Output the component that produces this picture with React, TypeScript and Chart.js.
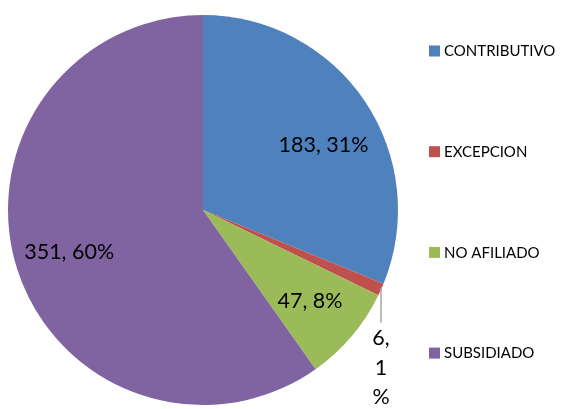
import React, { useEffect, useRef } from "react";
import { Chart, registerables } from "chart.js";

Chart.register(...registerables);

const categories = ["CONTRIBUTIVO", "EXCEPCION", "NO AFILIADO", "SUBSIDIADO"];
const values = [183, 6, 47, 351];
const colors = ["#4F81BD", "#C0504D", "#9BBB59", "#8064A2"];

const FONT = "Lato, 'Open Sans', 'Liberation Sans', sans-serif";
// small best-fit nudges for the in-slice labels (pixels), layout only
const labelNudgeY = [13, 0, 0, 0];
const labelNudgeX = [4, 0, 0, 0];

const labelPlugin = {
  id: "sliceLabels",
  afterDraw(chart: any) {
    const ctx = chart.ctx;
    const meta = chart.getDatasetMeta(0);
    const data = chart.data.datasets[0].data as number[];
    const total = data.reduce((a, b) => a + b, 0);
    ctx.save();
    ctx.fillStyle = "#000";
    ctx.textAlign = "center";
    ctx.textBaseline = "middle";
    ctx.font = `21.5px ${FONT}`;
    meta.data.forEach((arc: any, i: number) => {
      const { x, y, startAngle, endAngle, outerRadius } = arc.getProps(
        ["x", "y", "startAngle", "endAngle", "outerRadius"],
        true
      );
      const mid = (startAngle + endAngle) / 2;
      const pct = Math.round((data[i] / total) * 100);
      const share = data[i] / total;
      if (share >= 0.03) {
        const d = outerRadius * 0.72;
        const lx = x + Math.cos(mid) * d + labelNudgeX[i];
        const ly = y + Math.sin(mid) * d + labelNudgeY[i];
        ctx.fillText(`${data[i]}, ${pct}%`, lx, ly);
      } else {
        const ex = x + Math.cos(mid) * outerRadius;
        const ey = y + Math.sin(mid) * outerRadius;
        ctx.strokeStyle = "#A6A6A6";
        ctx.lineWidth = 1.5;
        ctx.beginPath();
        ctx.moveTo(ex, ey - 2);
        ctx.lineTo(ex, ey + 33);
        ctx.stroke();
        const lines = [`${data[i]},`, `${pct}`, "%"];
        lines.forEach((t, k) => {
          ctx.fillText(t, ex, ey + 49 + k * 29.5);
        });
      }
    });

    // legend
    ctx.textAlign = "left";
    ctx.font = `15px ${FONT}`;
    const legX = 429;
    const legY0 = 51;
    const step = 100.7;
    chart.data.labels.forEach((lab: string, i: number) => {
      const cy = legY0 + i * step;
      ctx.fillStyle = colors[i];
      ctx.fillRect(legX, cy - 5.5, 11, 11);
      ctx.fillStyle = "#000";
      ctx.fillText(lab, legX + 15, cy + 0.5);
    });
    ctx.restore();
  },
};

export default function App() {
  const ref = useRef<HTMLCanvasElement>(null);
  useEffect(() => {
    document.body.style.margin = "0";
    const chart = new Chart(ref.current!, {
      type: "pie",
      data: {
        labels: categories,
        datasets: [
          {
            data: values,
            backgroundColor: colors,
            borderWidth: 0,
          },
        ],
      },
      options: {
        responsive: false,
        animation: false,
        layout: { padding: { left: 8, right: 164, top: 15, bottom: 4 } },
        plugins: {
          legend: { display: false },
          tooltip: { enabled: false },
        },
      },
      plugins: [labelPlugin],
    });
    return () => chart.destroy();
  }, []);
  return (
    <div style={{ position: "absolute", left: 0, top: 0, width: 562, height: 409, background: "#fff" }}>
      <canvas ref={ref} width={562} height={409} />
    </div>
  );
}
